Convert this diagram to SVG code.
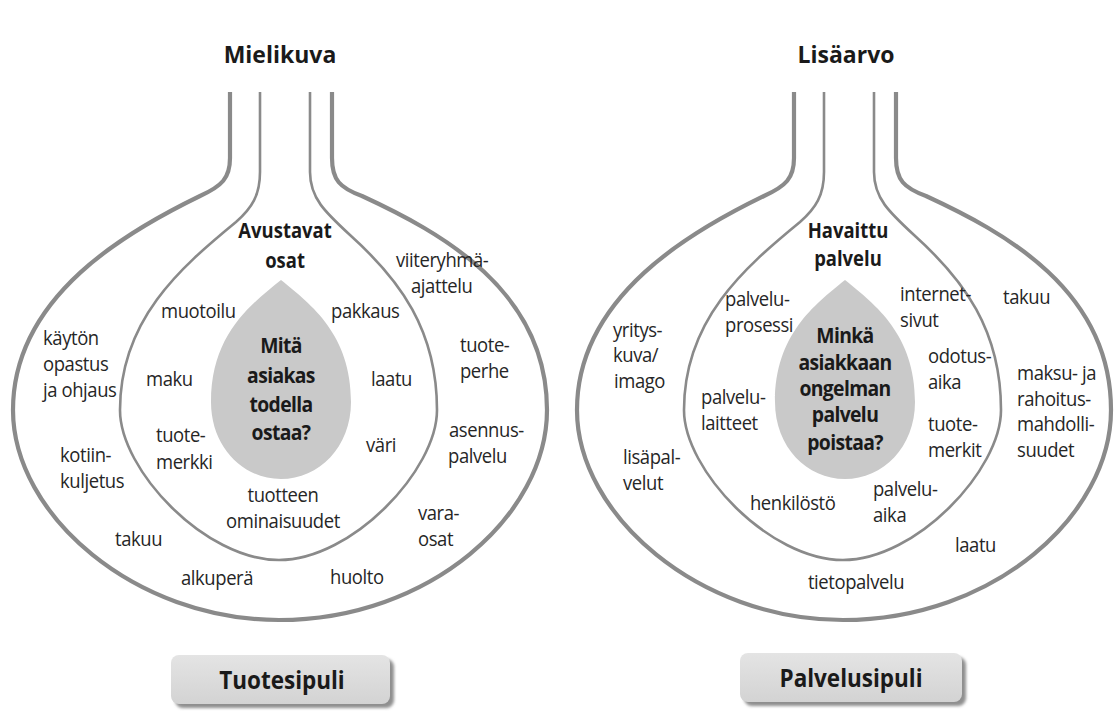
<svg xmlns="http://www.w3.org/2000/svg" width="1117" height="724" viewBox="0 0 1117 724">
<style>
.o{fill:none;stroke:#8a8a8a;stroke-width:4.2}
.i{fill:none;stroke:#8a8a8a;stroke-width:2.6}
.drop{fill:#c9c9c9}
.t{font-family:"Open Sans","Noto Sans","DejaVu Sans",sans-serif;font-size:20.5px;fill:#262626;letter-spacing:-0.45px}
.b{font-family:"Open Sans","Noto Sans","DejaVu Sans",sans-serif;font-weight:700;font-size:20.5px;fill:#1a1a1a}
.q{font-family:"Open Sans","Noto Sans","DejaVu Sans",sans-serif;font-weight:700;font-size:21.5px;fill:#1a1a1a;letter-spacing:-0.7px}
.h{font-family:"Open Sans","Noto Sans","DejaVu Sans",sans-serif;font-weight:700;font-size:23px;fill:#1a1a1a}
.lab{font-family:"Open Sans","Noto Sans","DejaVu Sans",sans-serif;font-weight:700;font-size:25px;fill:#1a1a1a}
.c{text-anchor:middle}
.box{fill:url(#bg)}
.shadow{fill:#8f8f8f;filter:url(#blur)}
</style>
<defs>
<linearGradient id="bg" x1="0" y1="0" x2="0" y2="1">
<stop offset="0" stop-color="#e4e4e4"/>
<stop offset="1" stop-color="#d3d3d3"/>
</linearGradient>
<filter id="blur" x="-10%" y="-30%" width="120%" height="160%">
<feGaussianBlur stdDeviation="1.8"/>
</filter>
<path id="outer" class="o" d="M 230 92 V 158 C 230 178 222 186 200 196 C 130 230 13 295 13 410 C 13 515 135 620 279 620 C 430 620 547 515 547 410 C 547 290 440 232 362 196 C 340 188 332 180 332 158 V 92"/>
<path id="inner" class="i" d="M 260 92 V 172 C 260 195 252 208 236 222 C 180 268 120 320 120 410 C 120 470 205 560 279 560 C 352 560 437 470 437 410 C 437 330 400 280 350 235 C 325 212 310 198 310 172 V 92"/>
<path id="dropShape" class="drop" d="M 281 280 C 250 305 211 335 211 402 C 211 447 243 479 281 479 C 319 479 351 447 351 402 C 351 335 312 305 281 280 Z"/>
</defs>
<rect x="0" y="0" width="1117" height="724" fill="#ffffff"/>

<g id="connectors"/>

<g id="onion-tuote">
<use href="#outer"/>
<use href="#inner"/>
<use href="#dropShape"/>
</g>
<g id="onion-palvelu">
<use href="#outer" x="564"/>
<use href="#inner" x="564"/>
<use href="#dropShape" x="564"/>
</g>

<g id="label-tuotesipuli-box">
<rect class="shadow" x="175" y="659" width="219" height="49" rx="8"/>
<rect class="box" x="171" y="655" width="219" height="49" rx="8"/>
</g>
<g id="label-palvelusipuli-box">
<rect class="shadow" x="744" y="657" width="222" height="49" rx="8"/>
<rect class="box" x="740" y="653" width="222" height="49" rx="8"/>
</g>

<g id="title-mielikuva"><text class="h c" x="280" y="63">Mielikuva</text></g>
<g id="title-lisaarvo"><text class="h c" x="846" y="63">Lisäarvo</text></g>

<!-- remaining texts are set in a slightly condensed (0.9 horizontal) layer; x values are divided by 0.9 -->
<g id="texts" transform="scale(0.9 1)">
<g id="core-tuote"><text class="q c"><tspan x="312.2" y="353">Mitä</tspan><tspan x="312.2" y="383">asiakas</tspan><tspan x="312.2" y="412">todella</tspan><tspan x="312.2" y="440">ostaa?</tspan></text></g>
<g id="avustavat"><text class="b c"><tspan x="316.7" y="238">Avustavat</tspan><tspan x="316.7" y="268">osat</tspan></text></g>
<g id="l-muotoilu"><text class="t" x="178.9" y="318">muotoilu</text></g>
<g id="l-pakkaus"><text class="t" x="367.8" y="318">pakkaus</text></g>
<g id="l-maku"><text class="t" x="162.2" y="386">maku</text></g>
<g id="l-laatu"><text class="t" x="412.2" y="386">laatu</text></g>
<g id="l-tuotemerkki"><text class="t"><tspan x="173.3" y="442">tuote-</tspan><tspan x="173.3" y="469">merkki</tspan></text></g>
<g id="l-vari"><text class="t" x="406.7" y="452">väri</text></g>
<g id="l-ominaisuudet"><text class="t c"><tspan x="314.4" y="502">tuotteen</tspan><tspan x="314.4" y="528">ominaisuudet</tspan></text></g>
<g id="l-viiteryhma"><text class="t"><tspan x="440" y="267">viiteryhmä-</tspan><tspan x="456.7" y="293">ajattelu</tspan></text></g>
<g id="l-kaytonopastus"><text class="t"><tspan x="47.8" y="345">käytön</tspan><tspan x="47.8" y="371">opastus</tspan><tspan x="47.8" y="397">ja ohjaus</tspan></text></g>
<g id="l-tuoteperhe"><text class="t"><tspan x="511.1" y="352">tuote-</tspan><tspan x="511.1" y="378">perhe</tspan></text></g>
<g id="l-asennus"><text class="t"><tspan x="498.9" y="437">asennus-</tspan><tspan x="497.8" y="463">palvelu</tspan></text></g>
<g id="l-kotiinkuljetus"><text class="t"><tspan x="66.7" y="462">kotiin-</tspan><tspan x="66.7" y="488">kuljetus</tspan></text></g>
<g id="l-varaosat"><text class="t"><tspan x="464.4" y="520">vara-</tspan><tspan x="464.4" y="546">osat</tspan></text></g>
<g id="l-takuu"><text class="t" x="127.8" y="546">takuu</text></g>
<g id="l-alkupera"><text class="t" x="201.1" y="585">alkuperä</text></g>
<g id="l-huolto"><text class="t" x="366.7" y="584">huolto</text></g>
<g id="label-tuotesipuli"><text class="lab c" x="313.3" y="689">Tuotesipuli</text></g>

<g id="core-palvelu"><text class="q c"><tspan x="938.9" y="343">Minkä</tspan><tspan x="938.9" y="370">asiakkaan</tspan><tspan x="938.9" y="396">ongelman</tspan><tspan x="938.9" y="422">palvelu</tspan><tspan x="938.9" y="450">poistaa?</tspan></text></g>
<g id="havaittu"><text class="b c"><tspan x="942.2" y="238">Havaittu</tspan><tspan x="942.2" y="266">palvelu</tspan></text></g>
<g id="r-palveluprosessi"><text class="t"><tspan x="805.6" y="306">palvelu-</tspan><tspan x="805.6" y="332">prosessi</tspan></text></g>
<g id="r-internetsivut"><text class="t"><tspan x="1000" y="301">internet-</tspan><tspan x="1000" y="327">sivut</tspan></text></g>
<g id="r-takuu"><text class="t" x="1114.4" y="304">takuu</text></g>
<g id="r-yrityskuva"><text class="t"><tspan x="681.1" y="337">yritys-</tspan><tspan x="681.1" y="362">kuva/</tspan><tspan x="682.2" y="388">imago</tspan></text></g>
<g id="r-odotusaika"><text class="t"><tspan x="1031.1" y="363">odotus-</tspan><tspan x="1031.1" y="389">aika</tspan></text></g>
<g id="r-maksu"><text class="t"><tspan x="1130" y="380">maksu- ja</tspan><tspan x="1130" y="406">rahoitus-</tspan><tspan x="1130" y="431">mahdolli-</tspan><tspan x="1130" y="457">suudet</tspan></text></g>
<g id="r-palvelulaitteet"><text class="t"><tspan x="778.9" y="404">palvelu-</tspan><tspan x="778.9" y="430">laitteet</tspan></text></g>
<g id="r-tuotemerkit"><text class="t"><tspan x="1031.1" y="431">tuote-</tspan><tspan x="1031.1" y="457">merkit</tspan></text></g>
<g id="r-lisapalvelut"><text class="t"><tspan x="692.2" y="464">lisäpal-</tspan><tspan x="692.2" y="490">velut</tspan></text></g>
<g id="r-henkilosto"><text class="t" x="833.3" y="510">henkilöstö</text></g>
<g id="r-palveluaika"><text class="t"><tspan x="970" y="496">palvelu-</tspan><tspan x="970" y="522">aika</tspan></text></g>
<g id="r-laatu"><text class="t" x="1061.1" y="552">laatu</text></g>
<g id="r-tietopalvelu"><text class="t c" x="951.1" y="589">tietopalvelu</text></g>
<g id="label-palvelusipuli"><text class="lab c" x="945.6" y="687">Palvelusipuli</text></g>
</g>
</svg>
